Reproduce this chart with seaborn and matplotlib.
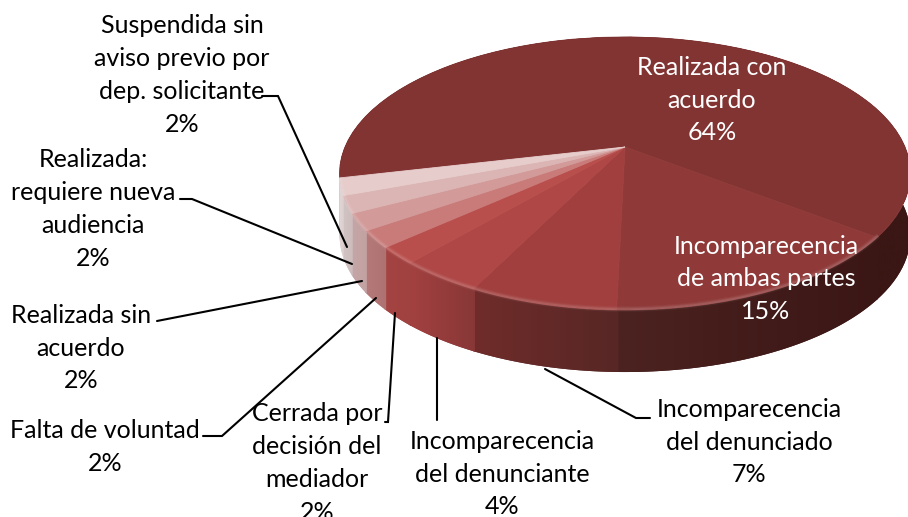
import numpy as np
import matplotlib
matplotlib.use("Agg")
import matplotlib.pyplot as plt
from matplotlib.transforms import Transform
from matplotlib.patches import Polygon
from matplotlib.colors import to_rgb
import seaborn as sns

# ---- data ----
categories = ["Realizada con\nacuerdo", "Incomparecencia\nde ambas partes",
              "Incomparecencia\ndel denunciado", "Incomparecencia\ndel denunciante",
              "Cerrada por\ndecisión del\nmediador", "Falta de voluntad",
              "Realizada sin\nacuerdo", "Realizada:\nrequiere nueva\naudiencia",
              "Suspendida sin\naviso previo por\ndep. solicitante"]
values = [64, 15, 7, 4, 2, 2, 2, 2, 2]

# ---- style ----
top_colors = ["#823433", "#8f3a39", "#a03f3e", "#ae4746", "#b94f4c",
              "#c87b79", "#d29a98", "#dbb5b4", "#e6cdcc"]
side_colors = [("#3a1614", "#3a1614"), ("#4c2321", "#3a1614"), ("#702c2a", "#572725"),
               ("#a34140", "#883737"), ("#a54442", "#a04240"), ("#b47a79", "#ae7271"),
               ("#c5a6a6", "#c2a1a1"), ("#d2c4c4", "#ccbcbc"), ("#e0d4d4", "#dccfcf")]
label_pos = [(712, 100, "white"), (766, 279, "white"), (749, 442, "black"), (502, 474, "black"),
             (317, 463, "black"), (105, 447, "black"), (81, 348, "black"), (93, 209, "black"),
             (182, 75, "black")]
leaders = [None, None,
           [(650, 418), (636, 418), (545, 369)],
           [(437, 420), (437, 338)],
           [(385, 422), (388, 422), (395, 313)],
           [(203, 436), (222, 436), (376, 298)],
           [(157, 321), (362, 281)],
           [(180, 199), (192, 199), (352, 264)],
           [(262, 96), (278, 96), (347, 247)]]

APEX_X, APEX_Y, SX, SY, K, DEPTH = 625.0, 147.0, 280.0, 131.4, 0.194, 62.0


class Perspective(Transform):
    input_dims = output_dims = 2
    is_separable = False
    has_inverse = False

    def transform_non_affine(self, xy):
        xy = np.asarray(xy, float)
        w = 1 + K * xy[:, 1]
        return np.column_stack([APEX_X + SX * xy[:, 0] / w, APEX_Y - SY * xy[:, 1] / w])


persp = Perspective()


def rim(t1, t2, n=120):
    t = np.radians(np.linspace(t1, t2, n))
    return persp.transform_non_affine(np.column_stack([np.cos(t), np.sin(t)]))


sns.set_theme(style="white")
plt.rcParams["font.family"] = ["Lato", "DejaVu Sans"]

fig = plt.figure(figsize=(9.08, 5.17), dpi=100, facecolor="white")
ax = fig.add_axes([0, 0, 1, 1])

palette = sns.color_palette(top_colors)
wedges, _ = ax.pie(values, colors=palette, startangle=193,
                   counterclock=False, radius=1, wedgeprops=dict(linewidth=0, zorder=5))
for w, c in zip(wedges, palette):
    w.set_transform(persp + ax.transData)
    w.set_edgecolor(c)
    w.set_linewidth(0.6)

# extruded side of each slice, with a horizontal gradient; later slices lie over earlier ones
for i, (w, (c0, c1)) in enumerate(zip(wedges, side_colors)):
    z = 1 + i * 0.05
    arc = rim(w.theta1 - 0.3, w.theta2 + 0.3)
    low = arc + [0, DEPTH]
    outline = np.vstack([arc, low[::-1]])
    ax.fill(outline[:, 0], outline[:, 1], color=c1, lw=0, zorder=z)
    poly = Polygon(outline, closed=True, facecolor="none", edgecolor="none",
                   transform=ax.transData)
    ax.add_patch(poly)
    front = low[:, 1] > APEX_Y + 30
    xs = low[front, 0] if front.any() else low[:, 0]
    g = np.linspace(0, 1, 128)[None, :, None]
    img = (1 - g) * np.array(to_rgb(c0)) + g * np.array(to_rgb(c1))
    im = ax.imshow(img, extent=(xs.min(), xs.max(), 520, 0), aspect="auto", zorder=z + 0.01,
                   interpolation="bilinear")
    im.set_clip_path(poly)

# soft bevel along the front edge of the top face
edge = rim(193, 323, 300)
for lw, alpha in [(4, 0.04), (2.5, 0.06), (1.2, 0.08)]:
    ax.plot(edge[:, 0], edge[:, 1] - 1, color="white", lw=lw, alpha=alpha, zorder=6,
            solid_capstyle="butt")

# labels
for cat, val, (x, y, col) in zip(categories, values, label_pos):
    ax.text(x, y, f"{cat}\n{val}%", ha="center", va="center", multialignment="center",
            fontsize=18, color=col, linespacing=1.52, zorder=8)

# leader lines
for pts in leaders:
    if pts:
        px, py = zip(*pts)
        ax.plot(px, py, color="black", lw=1.5, zorder=7, solid_joinstyle="miter")

ax.set_aspect("auto")
ax.set_xlim(0, 908)
ax.set_ylim(517, 0)
ax.axis("off")
fig.savefig("out.png", dpi=100)
